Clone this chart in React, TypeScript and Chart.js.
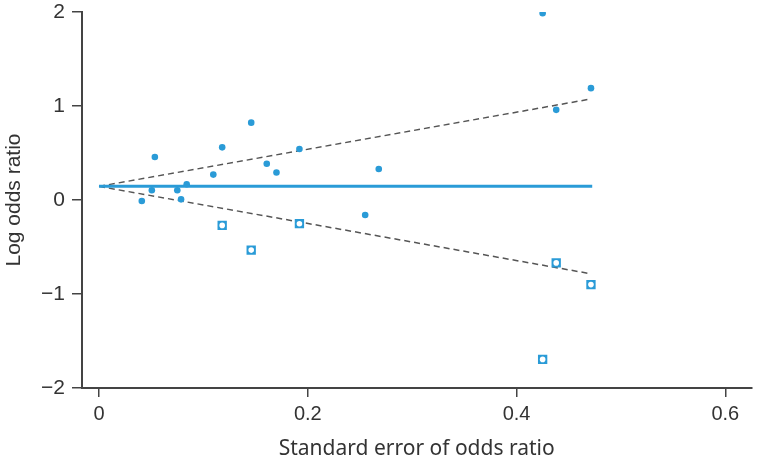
import React, { useEffect, useRef } from "react";
import { Chart, registerables } from "chart.js";

Chart.register(...registerables);

// Observed studies
const observedSE = [0.041, 0.0506, 0.0535, 0.075, 0.0786, 0.084, 0.1095, 0.118, 0.1458, 0.1607, 0.17, 0.192, 0.255, 0.268, 0.425, 0.438, 0.4713];
const observedLogOR = [-0.01, 0.104, 0.457, 0.104, 0.007, 0.168, 0.27, 0.56, 0.823, 0.385, 0.292, 0.542, -0.16, 0.33, 1.986, 0.959, 1.19];

// Imputed (trim-and-fill) studies
const imputedSE = [0.118, 0.1458, 0.192, 0.425, 0.438, 0.4713];
const imputedLogOR = [-0.27, -0.533, -0.252, -1.696, -0.669, -0.9];

// Pooled estimate line and funnel limits
const pooledSE = [0, 0.4725];
const pooledLogOR = [0.145, 0.145];
const funnelSE = [0, 0.4713];
const funnelUpper = [0.145, 1.075];
const funnelLower = [0.145, -0.785];

const xTicks = [0, 0.2, 0.4, 0.6];
const yTicks = [-2, -1, 0, 1, 2];

const BLUE = "#2a9bd7";
const AXIS = "#444444";

const pts = (xs: number[], ys: number[]) => xs.map((x, i) => ({ x, y: ys[i] }));

export default function App() {
  const ref = useRef<HTMLCanvasElement | null>(null);
  useEffect(() => {
    document.body.style.margin = "0";
    if (!ref.current) return;
    const chart = new Chart(ref.current, {
      type: "scatter",
      data: {
        datasets: [
          {
            data: pts(imputedSE, imputedLogOR),
            pointStyle: "circle",
            pointRadius: 2.8,
            pointBackgroundColor: "#ffffff",
            pointBorderWidth: 0,
            order: 0,
          },
          {
            data: pts(imputedSE, imputedLogOR),
            pointStyle: "rect",
            pointRadius: 6.6,
            pointBackgroundColor: BLUE,
            pointBorderWidth: 0,
            order: 1,
          },
          {
            data: pts(observedSE, observedLogOR),
            pointStyle: "circle",
            pointRadius: 3.3,
            pointBackgroundColor: BLUE,
            pointBorderWidth: 0,
            order: 1,
          },
          {
            data: pts(pooledSE, pooledLogOR),
            showLine: true,
            borderColor: BLUE,
            borderWidth: 3,
            pointRadius: 0,
            order: 3,
          },
          {
            data: pts(funnelSE, funnelUpper),
            showLine: true,
            borderColor: "#555555",
            borderWidth: 1.5,
            borderDash: [6, 4],
            pointRadius: 0,
            order: 4,
          },
          {
            data: pts(funnelSE, funnelLower),
            showLine: true,
            borderColor: "#555555",
            borderWidth: 1.5,
            borderDash: [6, 4],
            pointRadius: 0,
            order: 4,
          },
        ],
      },
      options: {
        animation: false,
        responsive: false,
        maintainAspectRatio: false,
        layout: { padding: { top: 0, right: 5, left: 0, bottom: 0 } },
        plugins: { legend: { display: false }, tooltip: { enabled: false } },
        scales: {
          x: {
            type: "linear",
            min: -0.0163,
            max: 0.625,
            afterBuildTicks: (scale: any) => {
              scale.ticks = xTicks.map((v) => ({ value: v }));
            },
            afterFit: (scale: any) => {
              scale.height = 71;
            },
            grid: {
              drawOnChartArea: false,
              drawTicks: true,
              tickLength: 9,
              color: AXIS,
              lineWidth: 1.5,
            },
            border: { display: true, color: AXIS, width: 2 },
            ticks: {
              padding: 5,
              color: "#333333",
              font: { family: "'Liberation Sans', Arial, sans-serif", size: 20 },
              callback: (v: any) => String(v),
            },
            title: {
              display: true,
              text: "Standard error of odds ratio",
              color: "#333333",
              font: { family: "'Noto Sans', sans-serif", size: 21 },
              padding: { top: 0, bottom: -3 },
            },
          },
          y: {
            type: "linear",
            min: -2,
            max: 2,
            afterBuildTicks: (scale: any) => {
              scale.ticks = yTicks.map((v) => ({ value: v }));
            },
            afterFit: (scale: any) => {
              scale.width = 82;
              scale.paddingTop = 12;
              scale.paddingBottom = 0;
            },
            grid: {
              drawOnChartArea: false,
              drawTicks: true,
              tickLength: 10,
              color: AXIS,
              lineWidth: 1.5,
            },
            border: { display: true, color: AXIS, width: 2 },
            ticks: {
              padding: 7,
              color: "#333333",
              font: { family: "'Liberation Sans', Arial, sans-serif", size: 21 },
              callback: (v: any) => String(v).replace("-", "\u2212"),
            },
            title: {
              display: true,
              text: "Log odds ratio",
              color: "#333333",
              font: { family: "'Liberation Sans', Arial, sans-serif", size: 21 },
              padding: { top: 2, bottom: 0 },
            },
          },
        },
      },
    });
    return () => chart.destroy();
  }, []);
  return (
    <div style={{ width: 758, height: 459 }}>
      <canvas ref={ref} width={758} height={459} style={{ width: 758, height: 459, display: "block" }} />
    </div>
  );
}
